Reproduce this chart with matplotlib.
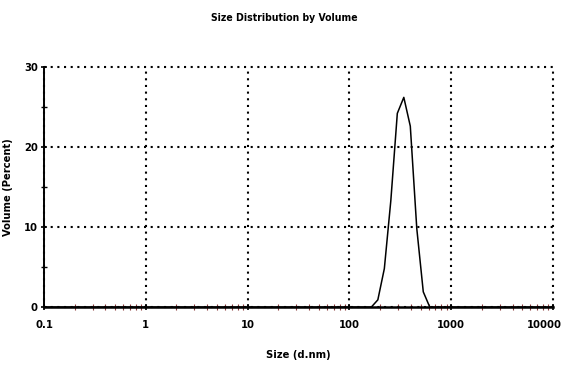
import numpy as np
import matplotlib.pyplot as plt
from matplotlib.ticker import LogLocator, FixedLocator, NullFormatter
from matplotlib.transforms import ScaledTranslation

plt.rcParams['font.family'] = ['DejaVu Sans']
plt.rcParams['font.stretch'] = 'condensed'

# size bins (d.nm) and volume distribution (%)
sizes = [0.1, 164.2, 190.1, 220.2, 255.0, 295.3, 342.0, 396.1, 458.7, 531.2, 615.1, 10000]
volume = [0.0, 0.0, 0.9, 4.8, 13.3, 24.2, 26.2, 22.6, 9.8, 1.9, 0.0, 0.0]

x_ticks = [0.1, 1, 10, 100, 1000, 10000]
x_tick_labels = ['0.1', '1', '10', '100', '1000', '10000']
y_ticks = [0, 10, 20, 30]

fig = plt.figure(figsize=(5.69, 3.74), dpi=100)
ax = fig.add_axes([0.0773, 0.179, 0.8947, 0.642])

ax.plot(sizes, volume, color='black', linewidth=1.1, zorder=3)

ax.set_xscale('log')
ax.set_xlim(0.1, 10000)
ax.set_ylim(0, 30)

ax.set_xticks(x_ticks)
ax.set_xticklabels(x_tick_labels)
ax.xaxis.set_minor_locator(LogLocator(base=10, subs=np.arange(2, 10)))
ax.xaxis.set_minor_formatter(NullFormatter())
ax.set_yticks(y_ticks)
ax.yaxis.set_minor_locator(FixedLocator([5, 15, 25]))

ax.grid(True, which='major', linestyle=(0, (1, 2.2)), color='black', linewidth=1.5)
for gl in ax.get_xgridlines() + ax.get_ygridlines():
    gl.set_clip_on(False)

for side in ['top', 'right']:
    ax.spines[side].set_visible(False)
ax.spines['left'].set_linewidth(1.4)
ax.spines['bottom'].set_linewidth(1.8)

ax.tick_params(axis='x', which='major', direction='inout', length=5, width=1.2,
               labelsize=8, pad=7)
ax.tick_params(axis='y', which='major', direction='inout', length=5, width=1.2,
               labelsize=8, pad=2)
ax.tick_params(axis='x', which='minor', direction='inout', length=4, width=0.8,
               color='#8a3a3a')
ax.tick_params(axis='y', which='minor', direction='inout', length=4, width=1.0)
for lbl in ax.get_xticklabels() + ax.get_yticklabels():
    lbl.set_fontweight('bold')

# keep the last x label inside the figure
last = ax.get_xticklabels()[-1]
last.set_transform(last.get_transform() + ScaledTranslation(-6 / 72, 0, fig.dpi_scale_trans))

ax.set_xlabel('Size (d.nm)', fontsize=8, fontweight='bold', labelpad=14)
ax.set_ylabel('Volume (Percent)', fontsize=8, fontweight='bold', labelpad=8)
fig.suptitle('Size Distribution by Volume', fontsize=7.5, fontweight='bold', y=0.965)

fig.savefig('out.png', dpi=100)
